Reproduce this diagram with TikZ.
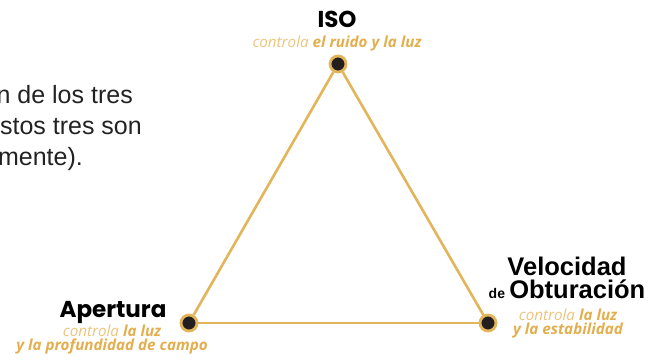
\documentclass[tikz,border=0pt]{standalone}
\usepackage{fontspec}
\setmainfont{Liberation Sans}
\newfontfamily\poppins{Poppins}
\newfontfamily\opensans{Open Sans}
\newfontfamily\arialf{Liberation Sans}
\definecolor{gold}{HTML}{E3B55A}
\definecolor{goldlight}{HTML}{EDC47E}
\definecolor{golddark}{HTML}{E2AE4E}
\definecolor{dotfill}{HTML}{231F20}
\definecolor{bodytext}{HTML}{222222}
\begin{document}
\begin{tikzpicture}[x=1pt,y=-1pt,
  edge/.style={draw=gold,line width=2.6pt},
  vdot/.style={circle,fill=dotfill,draw=gold,line width=2.8pt,minimum size=16pt,inner sep=0pt},
  bodyline/.style={anchor=base east,inner sep=0pt,text=bodytext,font=\arialf\fontsize{25}{25}\selectfont},
  title/.style={anchor=base,inner sep=0pt,text=black,font=\poppins\bfseries\fontsize{23}{23}\selectfont},
  vtitle/.style={anchor=base,inner sep=0pt,text=black,font=\arialf\bfseries\fontsize{25.5}{25.5}\selectfont},
  sub/.style={anchor=base,inner sep=0pt,font=\opensans\itshape\fontsize{15.2}{15.2}\selectfont}
]
\useasboundingbox (0,0) rectangle (669,360);
\newcommand{\ctl}{\textcolor{goldlight}{controla}}
\newcommand{\hl}[1]{\textcolor{golddark}{\bfseries #1}}
% body text (clipped on the left)
\begin{scope}
\clip (0,0) rectangle (669,360);
\node[bodyline] (l1) at (133,103) {n de los tres};
\node[bodyline] (l2) at (142,134) {stos tres son};
\node[bodyline] (l3) at (83,165) {mente).};
\end{scope}
% vertices
\node[vdot] (iso) at (338,64) {};
\node[vdot] (ap) at (189,323) {};
\node[vdot] (vel) at (488,323) {};
\path[edge] (iso) -- (ap);
\path[edge] (iso) -- (vel);
\path[edge] (ap) -- (vel);
% labels
\node[title] (isot) at (337,27) {ISO};
\node[sub] (isos) at (337,47) {\ctl\ \hl{el ruido y la luz}};
\node[title] (apt) at (113,317) {Apertura};
\node[sub] (aps1) at (112,336) {\ctl\ \hl{la luz}};
\node[sub] (aps2) at (112,350) {\hl{y la profundidad de campo}};
\node[vtitle] (velt1) at (567,275) {Velocidad};
\node[vtitle] (velt2) at (567,298) {{\fontsize{14}{14}\selectfont de}\,Obturación};
\node[sub] (vels1) at (568,320) {\ctl\ \hl{la luz}};
\node[sub] (vels2) at (568,334) {\hl{y la estabilidad}};
\end{tikzpicture}
\end{document}
